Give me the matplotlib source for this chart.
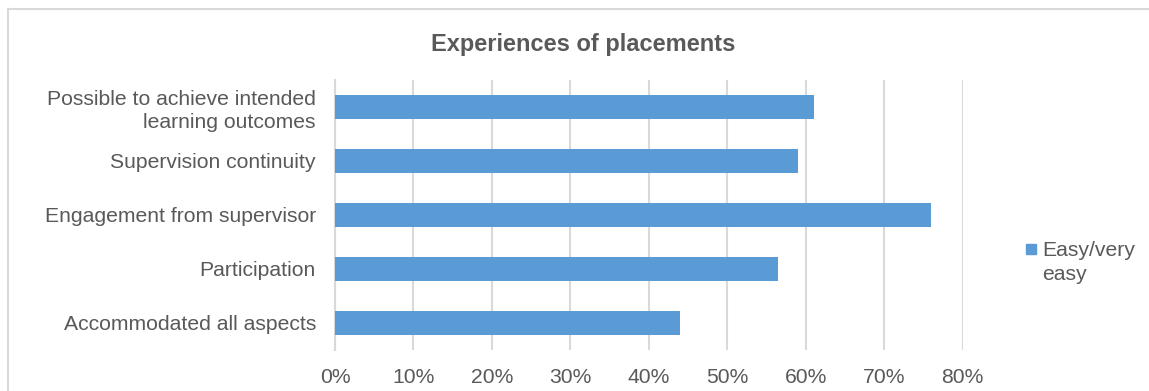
import matplotlib.pyplot as plt
from matplotlib.lines import Line2D
from matplotlib.patches import Rectangle
from matplotlib.ticker import PercentFormatter

plt.rcParams['font.family'] = ['Liberation Sans', 'DejaVu Sans']

categories = ['Possible to achieve intended\nlearning outcomes',
              'Supervision continuity',
              'Engagement from supervisor',
              'Participation',
              'Accommodated all aspects']
easy_share = [61, 59, 76, 56.5, 44]
series_name = 'Easy/very\neasy'

text_col = '#595959'
grid_col = '#D9D9D9'
bar_col = '#5B9BD5'

W, H = 1149, 391
fig = plt.figure(figsize=(W / 100, H / 100), dpi=100)


def fx(px):
    return px / W


def fy(px):
    return 1 - px / H


# light frame round the chart (runs off the right and bottom edges)
fig.add_artist(Line2D([fx(7.5), 1.01], [fy(8.5), fy(8.5)], transform=fig.transFigure,
                      color=grid_col, linewidth=1.5))
fig.add_artist(Line2D([fx(7.5), fx(7.5)], [-0.01, fy(8.5)], transform=fig.transFigure,
                      color=grid_col, linewidth=1.5))

ax = fig.add_axes([fx(335), 41 / H, 627.7 / W, 270 / H])
ypos = list(range(len(categories)))
ax.barh(ypos, easy_share, height=0.45, color=bar_col, zorder=3)
ax.set_ylim(len(categories) - 0.5, -0.5)
ax.set_xlim(0, 80)
ax.set_yticks(ypos)
ax.set_yticklabels(categories, fontsize=15.2, color=text_col, linespacing=1.3)
ax.set_xticks(range(0, 81, 10))
ax.xaxis.set_major_formatter(PercentFormatter(decimals=0))
ax.tick_params(axis='x', length=0, pad=13, labelsize=15.2, labelcolor=text_col)
ax.tick_params(axis='y', length=0, pad=13.7)
ax.grid(axis='x', color=grid_col, linewidth=1.5, zorder=0)
for s in ['top', 'right', 'bottom']:
    ax.spines[s].set_visible(False)
ax.spines['left'].set_color(grid_col)
ax.spines['left'].set_linewidth(1.5)

fig.text(fx(583), fy(44), 'Experiences of placements', ha='center', va='center',
         fontsize=17, fontweight='bold', color=text_col)

# legend: square key beside the first line of the series name
fig.patches.append(Rectangle((fx(1026), fy(254)), 10 / W, 10 / H,
                             transform=fig.transFigure, color=bar_col))
for i, line in enumerate(series_name.split('\n')):
    fig.text(fx(1042), fy(256 + 24 * i), line, ha='left', va='baseline',
             fontsize=15.2, color=text_col)

fig.savefig('out.png', dpi=100)
